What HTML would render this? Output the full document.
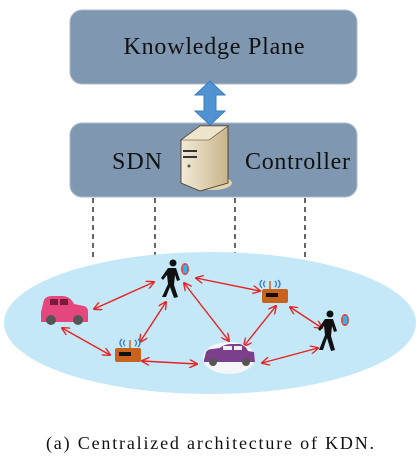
<!DOCTYPE html>
<html><head><style>
html,body{margin:0;padding:0;background:#fff;}
svg{display:block;}
</style></head><body>
<svg width="420" height="459" viewBox="0 0 420 459" xmlns="http://www.w3.org/2000/svg">
<defs>
<marker id="a" viewBox="0 0 10 10" refX="9" refY="5" markerWidth="6" markerHeight="6" orient="auto-start-reverse"><path d="M0,0 L10,5 L0,10" fill="none" stroke="#e8201f" stroke-width="1.6"/></marker>
<linearGradient id="sv" x1="0" x2="1"><stop offset="0" stop-color="#f3ead6"/><stop offset="1" stop-color="#c9b48a"/></linearGradient>
</defs>
<rect x="70" y="10" width="287" height="74" rx="12" fill="#8097b1" stroke="#aab9cc"/>
<text x="214" y="54" font-family="Liberation Serif, serif" font-size="24" text-anchor="middle" fill="#111" textLength="181">Knowledge Plane</text>
<rect x="70" y="123" width="287" height="74" rx="12" fill="#8097b1" stroke="#aab9cc"/>
<text x="112" y="169" font-family="Liberation Serif, serif" font-size="24" fill="#111" textLength="50">SDN</text>
<text x="245" y="169" font-family="Liberation Serif, serif" font-size="24" fill="#111" textLength="105">Controller</text>
<path d="M210,81 L225,95 L216,95 L216,111 L225,111 L210,125 L195,111 L204,111 L204,95 L195,95 Z" fill="#4f93d2" stroke="#3b7cba"/>
<ellipse cx="212" cy="183" rx="20" ry="7" fill="#e3d4b0"/>
<path d="M181,140 L200,126 L228,126 L228,183 L200,191 L181,183 Z" fill="url(#sv)" stroke="#4a3d28" stroke-width="0.9"/>
<path d="M181,140 L200,126 L228,126 L209,140 Z" fill="#efe5cc" stroke="#4a3d28" stroke-width="0.6"/>
<rect x="183" y="150" width="14" height="2" fill="#333"/><rect x="183" y="156" width="14" height="2" fill="#333"/>
<circle cx="189" cy="166" r="1.5" fill="#555"/>
<g stroke="#111" stroke-width="1.3" stroke-dasharray="5,4">
<line x1="93" y1="198" x2="93" y2="258"/><line x1="155" y1="198" x2="155" y2="258"/><line x1="235" y1="198" x2="235" y2="258"/><line x1="305" y1="198" x2="305" y2="258"/>
</g>
<ellipse cx="210" cy="323" rx="206" ry="71" fill="#c4e8f8"/>
<g stroke="#e8201f" stroke-width="1.4" marker-start="url(#a)" marker-end="url(#a)">
<line x1="94" y1="309" x2="154" y2="282"/>
<line x1="196" y1="278" x2="260" y2="291"/>
<line x1="62" y1="328" x2="110" y2="355"/>
<line x1="166" y1="302" x2="140" y2="342"/>
<line x1="184" y1="283" x2="229" y2="341"/>
<line x1="276" y1="306" x2="244" y2="346"/>
<line x1="290" y1="307" x2="322" y2="328"/>
<line x1="142" y1="361" x2="197" y2="364"/>
<line x1="262" y1="363" x2="318" y2="348"/>
</g>
<path d="M41,312 L44,300 Q46,296 52,296 L62,296 Q70,296 74,304 L84,306 Q88,307 88,312 L88,322 L41,322 Z" fill="#e4477e"/>
<rect x="50" y="299" width="8" height="6" fill="#7a1a3a"/><rect x="60" y="299" width="8" height="6" fill="#7a1a3a"/>
<circle cx="51" cy="320" r="5" fill="#555"/><circle cx="78" cy="320" r="5" fill="#555"/>
<g fill="#111"><circle cx="173" cy="263" r="3.5"/><path d="M168,268 L176,268 L180,280 L177,281 L175,275 L174,285 L178,297 L174,298 L170,287 L166,297 L162,297 L168,284 L167,275 L163,280 L161,278 Z"/></g>
<ellipse cx="185" cy="269" rx="4" ry="6" fill="#e24848"/><rect x="183" y="265" width="4" height="8" fill="#2fb6e8"/>
<g fill="#111"><circle cx="330" cy="314" r="3.5"/><path d="M325,319 L333,319 L337,331 L334,332 L332,326 L331,336 L335,350 L331,351 L327,338 L323,350 L319,350 L325,335 L324,326 L320,331 L318,329 Z"/></g>
<ellipse cx="345" cy="320" rx="4" ry="6" fill="#e24848"/><rect x="343" y="316" width="4" height="8" fill="#2fb6e8"/>
<g><rect x="115" y="348" width="26" height="14" rx="2" fill="#c9621c"/><rect x="119" y="352" width="12" height="4" fill="#111"/>
<line x1="130" y1="348" x2="130" y2="340" stroke="#c9621c" stroke-width="1.5"/>
<path d="M125,340 q-3,3 0,6 M122,339 q-4,4 0,8 M135,340 q3,3 0,6 M138,339 q4,4 0,8" stroke="#3f7bc0" stroke-width="1.3" fill="none"/></g>
<g><rect x="262" y="289" width="26" height="14" rx="2" fill="#c9621c"/><rect x="266" y="293" width="12" height="4" fill="#111"/>
<line x1="270" y1="289" x2="270" y2="281" stroke="#c9621c" stroke-width="1.5"/>
<path d="M265,281 q-3,3 0,6 M262,280 q-4,4 0,8 M275,281 q3,3 0,6 M278,280 q4,4 0,8" stroke="#3f7bc0" stroke-width="1.3" fill="none"/></g>
<ellipse cx="229" cy="358" rx="26" ry="16" fill="#f4f6f8"/>
<path d="M204,360 L206,352 Q208,349 212,349 L220,348 Q224,344 232,344 L240,344 Q246,346 248,351 L254,352 L255,362 L204,362 Z" fill="#7b3f8c"/>
<rect x="223" y="346" width="9" height="4" fill="#eee"/><rect x="234" y="346" width="8" height="4" fill="#eee"/>
<circle cx="213" cy="362" r="4" fill="#555"/><circle cx="246" cy="362" r="4" fill="#555"/>
<text x="46" y="449" font-family="Liberation Serif, serif" font-size="18" fill="#111" textLength="328" lengthAdjust="spacing">(a) Centralized architecture of KDN.</text>
</svg>
</body></html>
